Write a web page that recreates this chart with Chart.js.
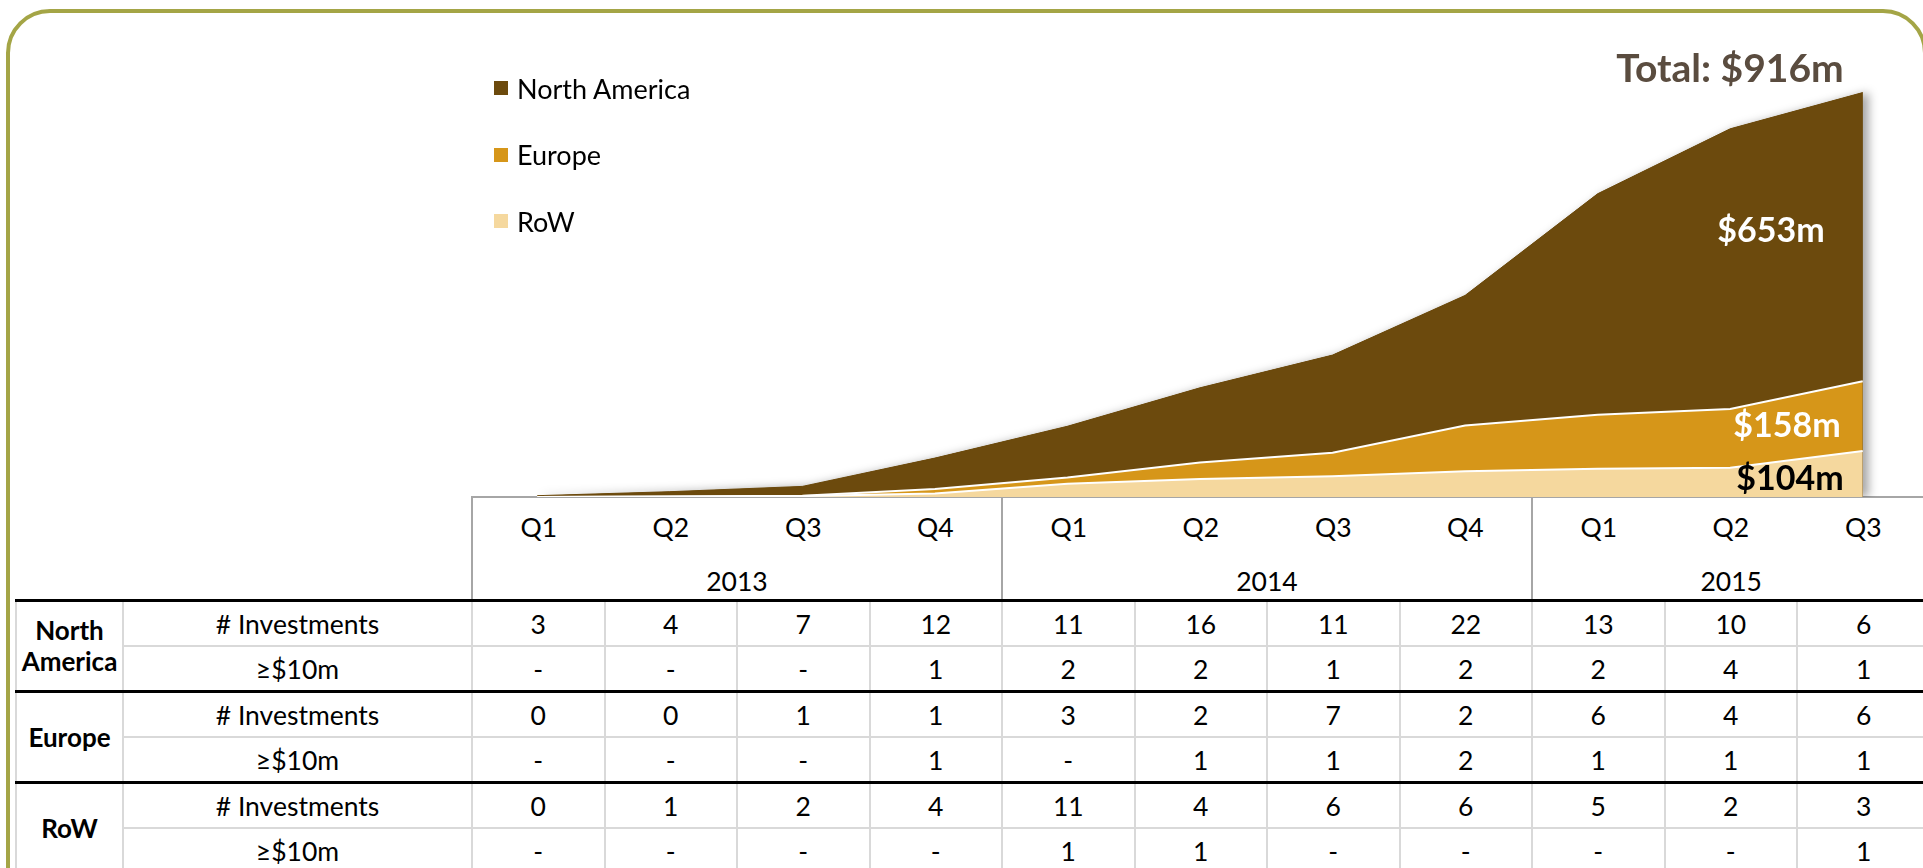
<!DOCTYPE html>
<html>
<head>
<meta charset="utf-8">
<script src="https://cdn.jsdelivr.net/npm/chart.js@4.4.1/dist/chart.umd.min.js"></script>
<style>
    html, body {
        margin: 0;
        padding: 0;
        width: 1923px;
        height: 868px;
        overflow: hidden;
        background: #fff;
        font-family: "Lato", "Open Sans", sans-serif;
        color: #000;
    }
    #moldura {
        position: absolute;
        left: 6px;
        top: 9px;
        width: 1921px;
        height: 1000px;
        border: 4px solid #a4a546;
        border-radius: 44px;
        box-sizing: border-box;
    }
    #legenda {
        position: absolute;
        left: 494px;
        top: 71px;
        z-index: 3;
    }
    .item-legenda {
        height: 34px;
        margin-bottom: 32.5px;
        display: flex;
        align-items: center;
        font-size: 27px;
    }
    .item-legenda span {
        display: inline-block;
        width: 14px;
        height: 14px;
        margin-right: 9px;
    }
    #graficoInvestimentos {
        position: absolute;
        left: 471px;
        top: 20px;
        z-index: 2;
    }
    #tabela {
        position: absolute;
        left: 15px;
        top: 496px;
        border-collapse: collapse;
        table-layout: fixed;
        width: 1913.5px;
        font-size: 26.5px;
        z-index: 1;
    }
    #tabela td {
        padding: 0;
        text-align: center;
        vertical-align: middle;
        white-space: nowrap;
    }
    #tabela tr.linha-q td { height: 58px; }
    #tabela tr.linha-ano td { height: 43px; vertical-align: bottom; line-height: 36px; }
    #tabela td.q { border-top: 2px solid #a6a6a6; }
    #tabela td.inicio-ano { border-left: 2px solid #a6a6a6; }
    #tabela tr.dados td { height: 43px; border-left: 2px solid #d9d9d9; }
    #tabela tr.primeira td { border-top: 3px solid #000; }
    #tabela tr.segunda td { border-top: 2px solid #d9d9d9; }
    #tabela td.regiao {
        font-weight: bold;
        font-size: 26px;
        line-height: 31px;
        white-space: normal;
        border-left: 3px solid #000;
        border-right: 2px solid #d9d9d9;
    }
</style>
</head>
<body>
<div id="moldura"></div>
<div id="legenda"></div>
<canvas id="graficoInvestimentos" width="1458" height="477"></canvas>
<table id="tabela"></table>

<script>
// dados (valores acumulados, $m)
const trimestres = ["Q1", "Q2", "Q3", "Q4", "Q1", "Q2", "Q3", "Q4", "Q1", "Q2", "Q3"];
const anos = ["2013", "2014", "2015"];
const colunasPorAno = [4, 4, 3];

const valoresNA = [3, 11, 21, 70, 116, 169, 221, 294, 500, 634, 653];
const valoresEuropa = [0, 0, 1, 10, 14, 37, 53, 104, 122, 133, 158];
const valoresRoW = [0, 1, 2, 8, 30, 41, 47, 58, 64, 66, 104];

const rotuloTotal = "Total: $916m";
const rotulosFinais = ["$653m", "$158m", "$104m"];

// tabela de numero de investimentos
const investNA = [3, 4, 7, 12, 11, 16, 11, 22, 13, 10, 6];
const acima10NA = ["-", "-", "-", 1, 2, 2, 1, 2, 2, 4, 1];
const investEuropa = [0, 0, 1, 1, 3, 2, 7, 2, 6, 4, 6];
const acima10Europa = ["-", "-", "-", 1, "-", 1, 1, 2, 1, 1, 1];
const investRoW = [0, 1, 2, 4, 11, 4, 6, 6, 5, 2, 3];
const acima10RoW = ["-", "-", "-", "-", 1, 1, "-", "-", "-", "-", 1];

const cores = {
    na: "#6c4a0d",
    europa: "#d69619",
    row: "#f5d89e"
};

// legenda em html, na ordem do empilhamento de cima pra baixo
function montarLegenda() {
    const box = document.getElementById("legenda");
    const itens = [
        { nome: "North America", cor: cores.na },
        { nome: "Europe", cor: cores.europa },
        { nome: "RoW", cor: cores.row }
    ];
    let html = "";
    itens.forEach((it) => {
        html += `<div class="item-legenda"><span style="background:${it.cor}"></span>${it.nome}</div>`;
    });
    box.innerHTML = html;
}

function montarTabela() {
    const tabela = document.getElementById("tabela");
    let html = "<colgroup><col style='width:107px'><col style='width:349px'>";
    trimestres.forEach(() => { html += "<col style='width:132.5px'>"; });
    html += "</colgroup>";

    // indices onde comeca cada ano
    const inicios = [];
    let soma = 0;
    colunasPorAno.forEach((n) => { inicios.push(soma); soma += n; });

    html += "<tr class='linha-q'><td colspan='2'></td>";
    trimestres.forEach((q, i) => {
        const cls = inicios.includes(i) ? "q inicio-ano" : "q";
        html += `<td class="${cls}">${q}</td>`;
    });
    html += "</tr>";

    html += "<tr class='linha-ano'><td colspan='2'></td>";
    anos.forEach((a, i) => {
        html += `<td class="inicio-ano" colspan="${colunasPorAno[i]}">${a}</td>`;
    });
    html += "</tr>";

    const regioes = [
        { nome: "North America", invest: investNA, acima: acima10NA },
        { nome: "Europe", invest: investEuropa, acima: acima10Europa },
        { nome: "RoW", invest: investRoW, acima: acima10RoW }
    ];

    regioes.forEach((r) => {
        html += `<tr class="dados primeira"><td class="regiao" rowspan="2">${r.nome}</td><td># Investments</td>`;
        r.invest.forEach((v) => { html += `<td>${v}</td>`; });
        html += "</tr>";
        html += `<tr class="dados segunda"><td>≥$10m</td>`;
        r.acima.forEach((v) => { html += `<td>${v}</td>`; });
        html += "</tr>";
    });

    tabela.innerHTML = html;
}

// sombra atras da area total
const sombra = {
    id: "sombra",
    beforeDatasetsDraw(chart) {
        const pts = chart.getDatasetMeta(2).data;
        const base = chart.scales.y.getPixelForValue(0);
        const c = chart.ctx;
        c.save();
        c.shadowColor = "rgba(0,0,0,0.35)";
        c.shadowBlur = 10;
        c.shadowOffsetX = 6;
        c.fillStyle = cores.na;
        c.beginPath();
        c.moveTo(pts[0].x, base);
        pts.forEach((p) => c.lineTo(p.x, p.y));
        c.lineTo(pts[pts.length - 1].x, base);
        c.closePath();
        c.fill();
        c.restore();
    }
};

// rotulos no fim das areas
const rotulos = {
    id: "rotulos",
    afterDatasetsDraw(chart) {
        const c = chart.ctx;
        const ult = trimestres.length - 1;
        const pRoW = chart.getDatasetMeta(0).data[ult];
        const pEu = chart.getDatasetMeta(1).data[ult];
        const pNA = chart.getDatasetMeta(2).data[ult];
        const base = chart.scales.y.getPixelForValue(0);

        c.save();
        c.textAlign = "right";
        c.textBaseline = "middle";

        c.font = "bold 39px Lato";
        c.fillStyle = "#5a4c3f";
        c.fillText(rotuloTotal, pNA.x - 19, pNA.y - 23);

        c.font = "bold 34px Lato";
        c.fillStyle = "#fff";
        c.fillText(rotulosFinais[0], pNA.x - 38, (pNA.y + pEu.y) / 2 - 6);
        c.fillText(rotulosFinais[1], pNA.x - 22, (pEu.y + pRoW.y) / 2 + 10);
        c.fillStyle = "#000";
        c.fillText(rotulosFinais[2], pNA.x - 19, (pRoW.y + base) / 2 + 5);
        c.restore();
    }
};

function gerarGrafico() {
    const ctx = document.getElementById("graficoInvestimentos");
    new Chart(ctx, {
        type: "line",
        data: {
            labels: trimestres,
            datasets: [
                {
                    label: "RoW",
                    data: valoresRoW,
                    backgroundColor: cores.row,
                    borderColor: "#fff",
                    borderWidth: 2,
                    fill: "origin",
                    pointRadius: 0,
                    tension: 0
                },
                {
                    label: "Europe",
                    data: valoresEuropa,
                    backgroundColor: cores.europa,
                    borderColor: "#fff",
                    borderWidth: 2,
                    fill: "-1",
                    pointRadius: 0,
                    tension: 0
                },
                {
                    label: "North America",
                    data: valoresNA,
                    backgroundColor: cores.na,
                    borderColor: cores.na,
                    borderWidth: 1,
                    fill: "-1",
                    pointRadius: 0,
                    tension: 0
                }
            ]
        },
        options: {
            responsive: false,
            animation: false,
            layout: { padding: { top: 35, left: 0, right: 0, bottom: 0 } },
            plugins: {
                legend: { display: false },
                tooltip: { enabled: false }
            },
            scales: {
                x: { display: false, offset: true },
                y: { display: false, stacked: true, min: 0, max: 1000 }
            }
        },
        plugins: [sombra, rotulos]
    });
}

document.addEventListener("DOMContentLoaded", function () {
    montarLegenda();
    montarTabela();
    gerarGrafico();
});
</script>
</body>
</html>
